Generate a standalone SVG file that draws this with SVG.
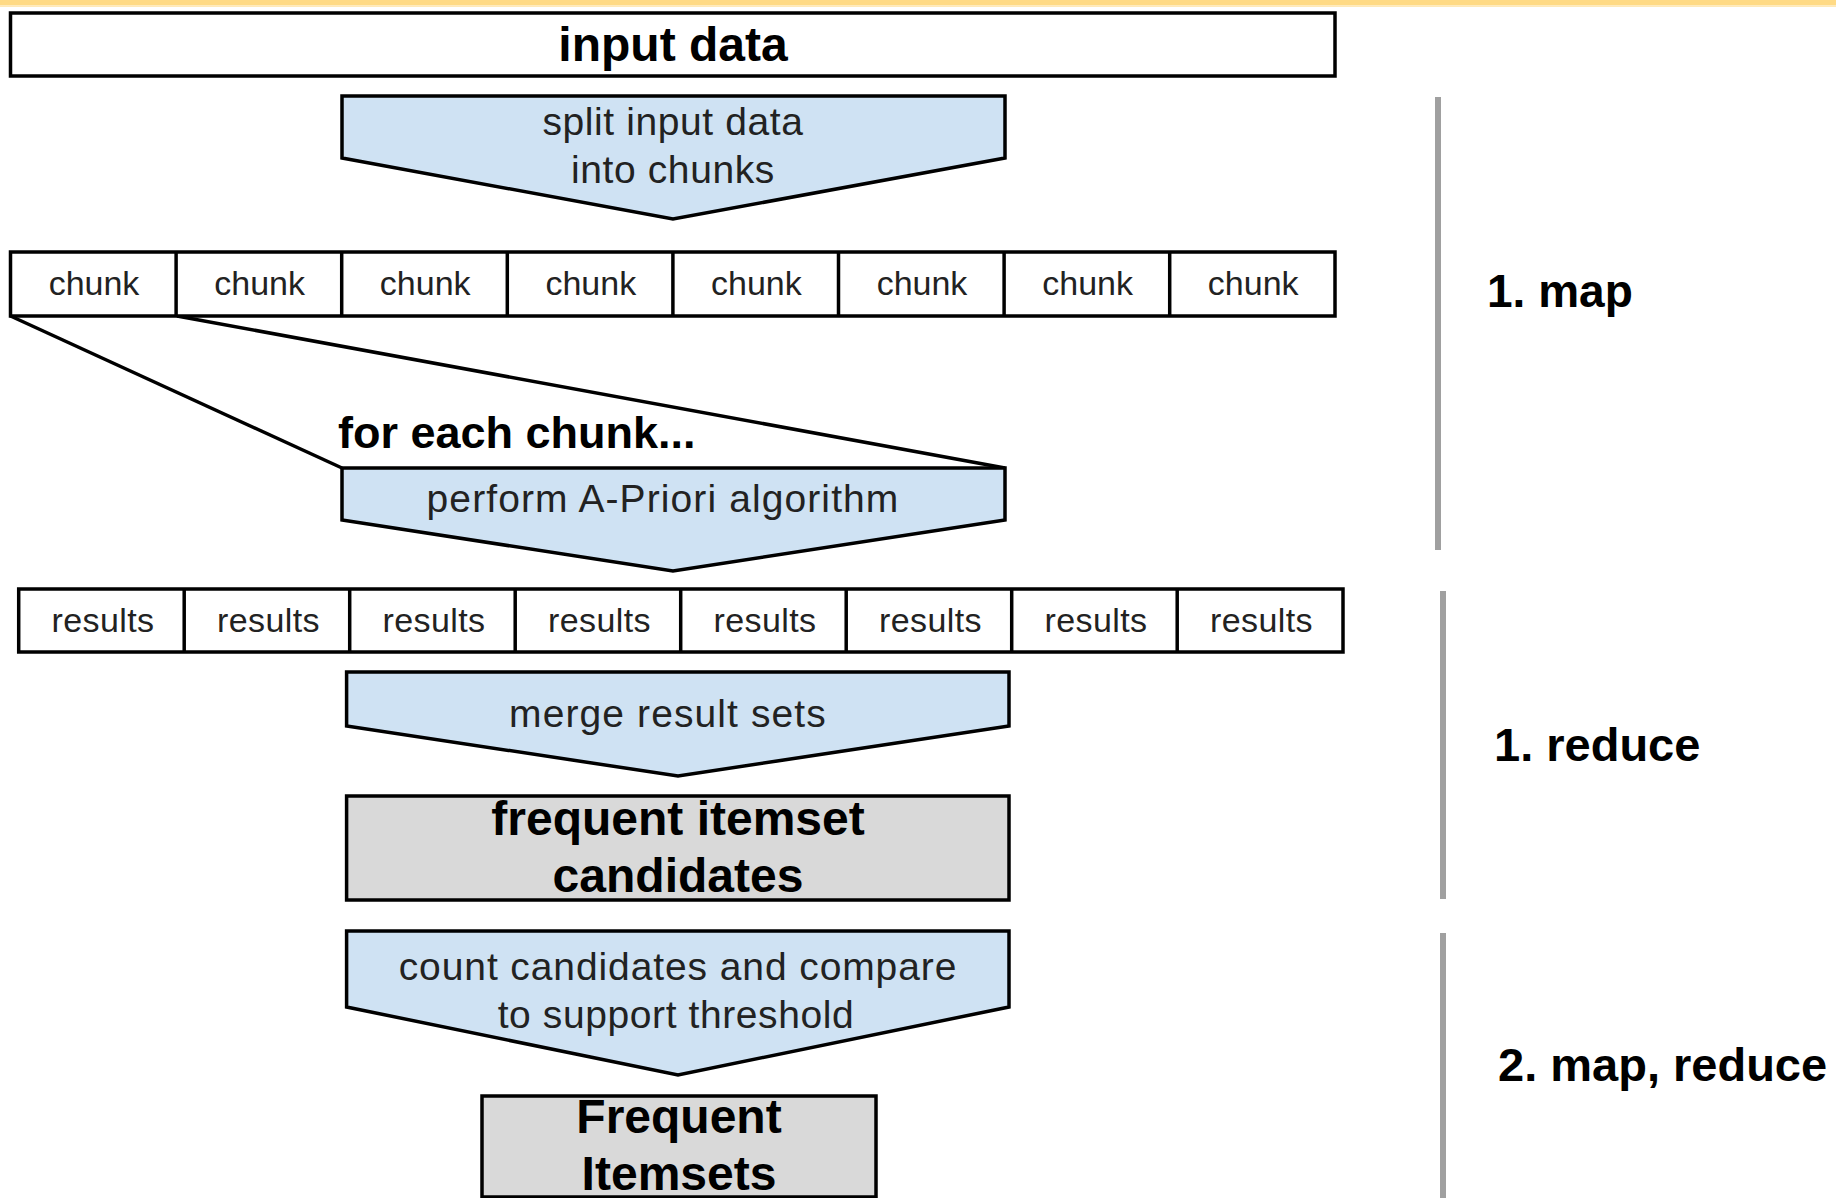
<svg xmlns="http://www.w3.org/2000/svg" width="1836" height="1198" viewBox="0 0 1836 1198">
<style>
.box{fill:#ffffff;stroke:#000;stroke-width:3.5}
.step{fill:#cfe2f3;stroke:#000;stroke-width:3.5;stroke-linejoin:miter}
.gray{fill:#d9d9d9;stroke:#000;stroke-width:3.5}
.reg{font-family:"Liberation Sans",Arial,sans-serif;fill:#222;text-anchor:middle}
.bold{font-family:"Liberation Sans",Arial,sans-serif;font-weight:bold;fill:#000}
.mid{text-anchor:middle}
.phase{stroke:#a0a0a0;stroke-width:6}
.conn{stroke:#000;stroke-width:3.5;fill:none}
</style>
<rect x="0" y="0" width="1836" height="1198" fill="#ffffff"/>
<rect x="0" y="0" width="1836" height="5.5" fill="#ffda85"/>
<rect x="0" y="5.5" width="1836" height="1.5" fill="#ffe9b8"/>

<g id="connectors">
  <line class="conn" x1="10.5" y1="316" x2="342" y2="468"/>
  <line class="conn" x1="177" y1="316" x2="1005" y2="468"/>
</g>

<g id="input-data">
  <rect class="box" x="10.5" y="13" width="1324.5" height="63"/>
  <text class="bold mid" x="673" y="61" font-size="48">input data</text>
</g>

<g id="split">
  <path class="step" d="M342,96 L1005,96 L1005,158 L673,219 L342,158 Z"/>
  <text class="reg" x="673" y="135" font-size="39" letter-spacing="0.6">split input data</text>
  <text class="reg" x="673" y="183" font-size="39" letter-spacing="0.6">into chunks</text>
</g>

<g id="chunks">
  <rect class="box" x="10.5" y="252" width="1324.5" height="64"/>
  <line class="conn" x1="176.1" y1="252" x2="176.1" y2="316"/>
  <line class="conn" x1="341.7" y1="252" x2="341.7" y2="316"/>
  <line class="conn" x1="507.3" y1="252" x2="507.3" y2="316"/>
  <line class="conn" x1="672.9" y1="252" x2="672.9" y2="316"/>
  <line class="conn" x1="838.5" y1="252" x2="838.5" y2="316"/>
  <line class="conn" x1="1004.1" y1="252" x2="1004.1" y2="316"/>
  <line class="conn" x1="1169.7" y1="252" x2="1169.7" y2="316"/>
  <g class="reg" font-size="34">
    <text x="94" y="295">chunk</text>
    <text x="259.6" y="295">chunk</text>
    <text x="425.2" y="295">chunk</text>
    <text x="590.8" y="295">chunk</text>
    <text x="756.4" y="295">chunk</text>
    <text x="922" y="295">chunk</text>
    <text x="1087.6" y="295">chunk</text>
    <text x="1253.2" y="295">chunk</text>
  </g>
</g>

<g id="for-each-label">
  <text class="bold" x="338" y="448" font-size="45">for each chunk...</text>
</g>

<g id="apriori">
  <path class="step" d="M342,468 L1005,468 L1005,520 L673,571 L342,520 Z"/>
  <text class="reg" x="663" y="512" font-size="39" letter-spacing="1.1">perform A-Priori algorithm</text>
</g>

<g id="results">
  <rect class="box" x="18.7" y="589" width="1324.3" height="63"/>
  <line class="conn" x1="184.2" y1="589" x2="184.2" y2="652"/>
  <line class="conn" x1="349.7" y1="589" x2="349.7" y2="652"/>
  <line class="conn" x1="515.2" y1="589" x2="515.2" y2="652"/>
  <line class="conn" x1="680.7" y1="589" x2="680.7" y2="652"/>
  <line class="conn" x1="846.2" y1="589" x2="846.2" y2="652"/>
  <line class="conn" x1="1011.7" y1="589" x2="1011.7" y2="652"/>
  <line class="conn" x1="1177.2" y1="589" x2="1177.2" y2="652"/>
  <g class="reg" font-size="34" letter-spacing="0.4">
    <text x="103" y="632">results</text>
    <text x="268.5" y="632">results</text>
    <text x="434" y="632">results</text>
    <text x="599.5" y="632">results</text>
    <text x="765" y="632">results</text>
    <text x="930.5" y="632">results</text>
    <text x="1096" y="632">results</text>
    <text x="1261.5" y="632">results</text>
  </g>
</g>

<g id="merge">
  <path class="step" d="M346.6,672 L1009,672 L1009,726 L678,776 L346.6,726 Z"/>
  <text class="reg" x="668" y="727" font-size="39" letter-spacing="1.1">merge result sets</text>
</g>

<g id="candidates">
  <rect class="gray" x="346.6" y="796" width="662.4" height="104"/>
  <text class="bold mid" x="678" y="835" font-size="48">frequent itemset</text>
  <text class="bold mid" x="678" y="892" font-size="48">candidates</text>
</g>

<g id="count">
  <path class="step" d="M346.6,931 L1009,931 L1009,1007 L678,1075 L346.6,1007 Z"/>
  <text class="reg" x="678" y="980" font-size="39" letter-spacing="0.9">count candidates and compare</text>
  <text class="reg" x="676" y="1028" font-size="39" letter-spacing="0.6">to support threshold</text>
</g>

<g id="frequent-itemsets">
  <rect class="gray" x="482" y="1096" width="394" height="101"/>
  <text class="bold mid" x="679" y="1133" font-size="48">Frequent</text>
  <text class="bold mid" x="679" y="1190" font-size="48">Itemsets</text>
</g>

<g id="phase-map">
  <line class="phase" x1="1438" y1="97" x2="1438" y2="550"/>
  <text class="bold" x="1487" y="307" font-size="46">1. map</text>
</g>
<g id="phase-reduce">
  <line class="phase" x1="1443" y1="591" x2="1443" y2="899"/>
  <text class="bold" x="1494" y="761" font-size="47">1. reduce</text>
</g>
<g id="phase-map-reduce">
  <line class="phase" x1="1443" y1="933" x2="1443" y2="1198"/>
  <text class="bold" x="1498" y="1081" font-size="47">2. map, reduce</text>
</g>
</svg>
